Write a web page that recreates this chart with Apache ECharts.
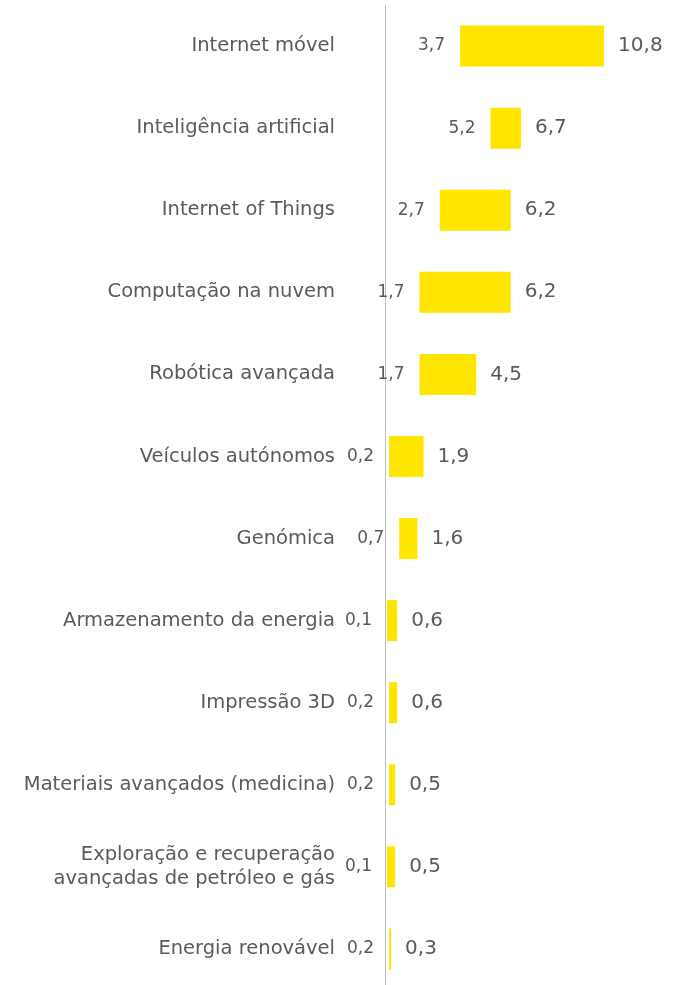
<!DOCTYPE html>
<html><head><meta charset="utf-8">
<script src="https://cdn.jsdelivr.net/npm/echarts@6/dist/echarts.min.js"></script>
<style>html,body{margin:0;padding:0;background:#fff}#c{width:680px;height:985px}</style>
</head><body><div id="c"></div>
<script>
const categories = ["Internet móvel","Inteligência artificial","Internet of Things","Computação na nuvem","Robótica avançada","Veículos autónomos","Genómica","Armazenamento da energia","Impressão 3D","Materiais avançados (medicina)","Exploração e recuperação\navançadas de petróleo e gás","Energia renovável"];
const lowValues = [3.7,5.2,2.7,1.7,1.7,0.2,0.7,0.1,0.2,0.2,0.1,0.2];
const highValues = [10.8,6.7,6.2,6.2,4.5,1.9,1.6,0.6,0.6,0.5,0.5,0.3];

const fmt = v => v.toFixed(1).replace('.', ',');
const FONT = 'DejaVu Sans';
const chart = echarts.init(document.getElementById('c'), null, {renderer:'canvas'});
chart.setOption({
  animation:false,
  grid:{left:385, right:11, top:5, bottom:-5, containLabel:false, outerBoundsMode:'none'},
  xAxis:{type:'value', min:0, max:14, show:false, splitLine:{show:false}},
  yAxis:{type:'category', inverse:true, data:categories,
    axisLine:{show:true, lineStyle:{color:'#bfbfbf', width:1}},
    axisTick:{show:false},
    axisLabel:{margin:50, color:'#5a5a5a', fontFamily:FONT, fontSize:19.5, lineHeight:24, align:'right'}},
  series:[
    {type:'bar', stack:'s', barWidth:41, data:lowValues,
     itemStyle:{color:'rgba(0,0,0,0)'},
     label:{show:true, position:'insideRight', distance:15, color:'#5a5a5a', fontFamily:FONT, fontSize:17,
       formatter:p=>fmt(lowValues[p.dataIndex])},
     emphasis:{disabled:true}},
    {type:'bar', stack:'s', barWidth:41, data:highValues.map((h,i)=>+(h-lowValues[i]).toFixed(2)),
     itemStyle:{color:'#ffe600'},
     label:{show:true, position:'right', distance:14, color:'#5a5a5a', fontFamily:FONT, fontSize:20,
       formatter:p=>fmt(highValues[p.dataIndex])},
     emphasis:{disabled:true}}
  ]
});
</script></body></html>
